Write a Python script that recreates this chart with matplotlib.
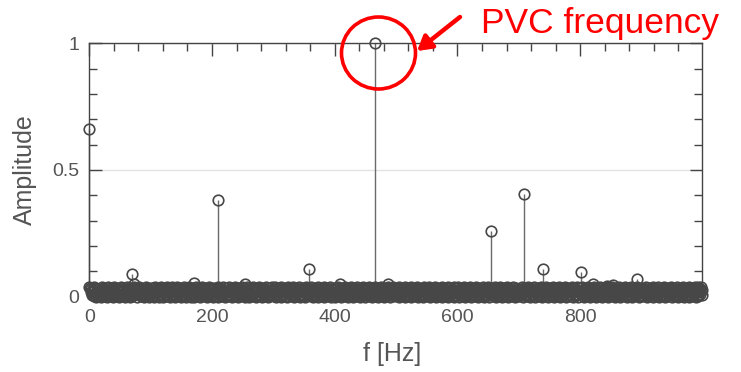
import matplotlib
matplotlib.use('Agg')
import matplotlib.pyplot as plt
from matplotlib.patches import Ellipse
from matplotlib.transforms import IdentityTransform
from matplotlib.ticker import MultipleLocator
import numpy as np

plt.rcParams['font.family'] = ['Liberation Sans', 'DejaVu Sans']

# ── Data: noise floor, one digit per 1 Hz bin (digit * 0.0042 = amplitude) ──
floor_scale = 0.0042
floor_digits = (
    "9874526193804725163094827153604928175360492187530642918573046291850734162985730469281753406291857304"
    "3816402957184036295804736192857103946285071936482051739460285719304682507193462805719364285017396428"
    "2704815369048271369540281369572401836957420813657924801369572041836975420816395724081367954201836957"
    "5193072846159037284651093748261590732846519037428615093728465193072486159037426851093728461593072486"
    "6082419375068421937560284193570682419735608421937506284193576082491375068421973560284193750682491357"
    "7351908264375190286473159082463751908264735109286437159082467351908624375109286473159028463751908264"
    "4960283715946028317549062837519460823715496028317594062837514960823715946028315749068237159460283175"
    "1627394058612739450816723940586127349058162739450861723940581627349058612739405816723495086127394058"
    "8539160472583916042785931604725839106472853916042758931604728539106472583916024785931064725839160427"
    "2418573960421857369024815739604218537960241857369042815739602418537960421857390624815379604218573962"
)

# ── Data: distinct peaks ──
peak_freq = [0, 70, 73, 104, 171, 209, 253, 358, 409, 466, 486,
             612, 655, 677, 708, 740, 757, 801, 821, 844, 854, 893, 992]
peak_amp = [0.66, 0.09, 0.05, 0.035, 0.053, 0.38, 0.05, 0.11, 0.05, 1.0, 0.05,
            0.035, 0.258, 0.035, 0.406, 0.11, 0.035, 0.096, 0.05, 0.043, 0.045, 0.071, 0.038]

floor_amp = np.array([int(c) for c in floor_digits]) * floor_scale
floor_freq = np.arange(len(floor_amp))

freq = np.concatenate([floor_freq, peak_freq])
amp = np.concatenate([floor_amp, peak_amp])
order = np.argsort(freq, kind='stable')
freq, amp = freq[order], amp[order]

W, H = 741, 372
fig = plt.figure(figsize=(W / 100, H / 100), dpi=100)
ax = fig.add_axes([89.3 / W, 1 - 296.7 / H, 612.4 / W, 253.4 / H])

mk_col = '#474747'
ml, sl, bl = ax.stem(freq, amp, basefmt=' ')
plt.setp(sl, color='#6a6a6a', linewidth=1.0, clip_on=False)
plt.setp(ml, marker='o', markersize=7.6, markerfacecolor='none',
         markeredgecolor=mk_col, markeredgewidth=1.2, clip_on=False, zorder=3)

ax.set_xlim(0, 998)
ax.set_ylim(0, 1)
ax.xaxis.set_major_locator(MultipleLocator(200))
ax.xaxis.set_minor_locator(MultipleLocator(40))
ax.yaxis.set_minor_locator(MultipleLocator(0.1))
ax.set_yticks([0, 0.5, 1])
ax.set_yticklabels(['0', '0.5', '1'])

ax.tick_params(which='both', direction='in', top=True, right=True,
               color='#444444', width=1.0)
ax.tick_params(which='major', length=9, labelsize=14, labelcolor='#555555')
ax.tick_params(which='minor', length=5.5)
ax.tick_params(axis='x', which='major', pad=9)
ax.tick_params(axis='y', which='major', pad=7)
for sp in ax.spines.values():
    sp.set_color('#444444')
    sp.set_linewidth(1.0)

ax.grid(True, axis='y', which='major', color='#e3e3e3', linewidth=1.0)
ax.set_axisbelow(True)

ax.set_xlabel('f [Hz]', fontsize=18, color='#555555', va='center')
ax.xaxis.set_label_coords(0.495, -0.226)
ax.set_ylabel('Amplitude', fontsize=18, color='#555555', va='center', ha='center')
ax.yaxis.set_label_coords(-0.105, 0.5)

# ── Annotation: red circle, arrow and caption ──
ring = Ellipse((378.5, H - 53), 74, 72, fill=False, edgecolor='#ff0000',
               linewidth=2.6, transform=IdentityTransform(), zorder=10)
fig.add_artist(ring)
fig.add_artist(plt.Annotation('', xy=(417, H - 51), xytext=(460, H - 17),
                              xycoords='figure pixels', textcoords='figure pixels',
                              arrowprops=dict(arrowstyle='-|>,head_length=0.85,head_width=0.5',
                                              color='#ff0000', lw=3.2, shrinkA=0, shrinkB=0)))
fig.text(481 / W, 1 - 33.5 / H, 'PVC frequency', color='#ff0000', fontsize=25.5,
         ha='left', va='baseline')

plt.savefig('out.png', dpi=100)
